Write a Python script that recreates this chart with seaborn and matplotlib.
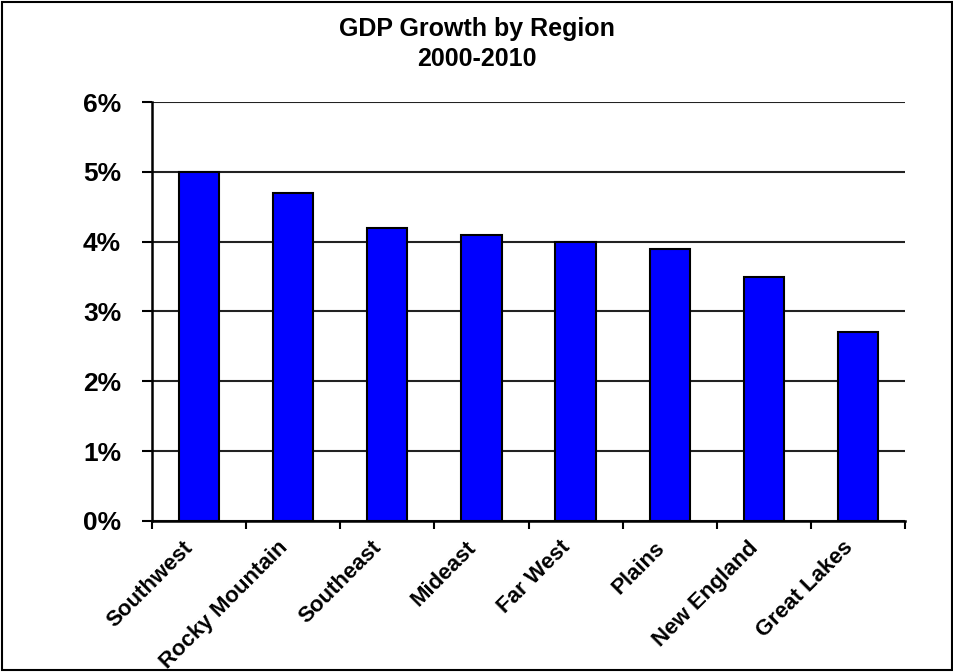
import numpy as np
import pandas as pd
import seaborn as sns
import matplotlib.pyplot as plt
import matplotlib.transforms as mtransforms
from matplotlib.patches import Rectangle
from matplotlib.ticker import PercentFormatter, FixedLocator

# Data
regions = ['Southwest', 'Rocky Mountain', 'Southeast', 'Mideast',
           'Far West', 'Plains', 'New England', 'Great Lakes']
growth = [5.0, 4.7, 4.2, 4.1, 4.0, 3.9, 3.5, 2.7]

df = pd.DataFrame({'region': regions, 'growth': growth})

sns.set_style('white')
plt.rcParams['font.family'] = ['Liberation Sans', 'DejaVu Sans']
plt.rcParams['font.weight'] = 'bold'
plt.rcParams['text.color'] = 'black'
plt.rcParams['xtick.color'] = 'black'
plt.rcParams['ytick.color'] = 'black'

fig = plt.figure(figsize=(9.54, 6.72), dpi=100)
ax = fig.add_axes([0.159, 0.225, 0.79, 0.623])

sns.barplot(data=df, x='region', y='growth', color='#0000ff', saturation=1,
            width=0.43, edgecolor='black', linewidth=1.5, ax=ax, zorder=3)

ax.set_ylim(0, 6)
ax.set_xlim(-0.5, len(regions) - 0.5)
ax.set_yticks(range(0, 7))
ax.yaxis.set_major_formatter(PercentFormatter(decimals=0))
ax.grid(axis='y', color='#222222', linewidth=1.5, zorder=0)
ax.set_axisbelow(True)

for s in ['top', 'right']:
    ax.spines[s].set_visible(False)
for s in ['left', 'bottom']:
    ax.spines[s].set_color('black')
    ax.spines[s].set_linewidth(1.8)

ax.tick_params(axis='y', which='major', length=7, width=1.5, color='black',
               direction='out', left=True, labelsize=19, pad=15,
               labelcolor='black')
ax.tick_params(axis='x', which='major', length=0, labelsize=16, pad=6,
               labelcolor='black')
ax.xaxis.set_minor_locator(FixedLocator(np.arange(-0.5, len(regions), 1)))
ax.tick_params(axis='x', which='minor', length=6, width=1.5, color='black',
               direction='out', bottom=True)

shift = mtransforms.ScaledTranslation(-16 / 100, -8 / 100, fig.dpi_scale_trans)
for lbl in ax.get_xticklabels():
    lbl.set_rotation(45)
    lbl.set_ha('right')
    lbl.set_rotation_mode('anchor')
    lbl.set_fontweight('bold')
    lbl.set_transform(lbl.get_transform() + shift)
for lbl in ax.get_yticklabels():
    lbl.set_fontweight('bold')

ax.set_xlabel('')
ax.set_ylabel('')
fig.suptitle('GDP Growth by Region\n2000-2010', y=0.975, fontsize=18,
             fontweight='bold', linespacing=1.35, color='black')

# outer border
fig.patches.append(Rectangle((0.002, 0.003), 0.996, 0.994, transform=fig.transFigure,
                             fill=False, edgecolor='black', linewidth=1.5))

fig.savefig('out.png', dpi=100)
